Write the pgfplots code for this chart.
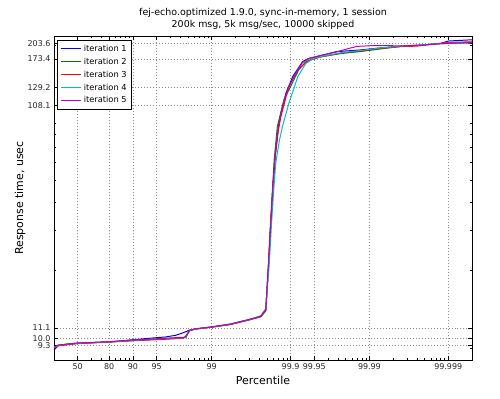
\documentclass[border=0pt]{standalone}
\usepackage{pgfplots}
\pgfplotsset{compat=1.18}
\usepackage{fontspec}
\setmainfont{DejaVu Sans}
\definecolor{mplb}{rgb}{0,0,1}
\definecolor{mplg}{rgb}{0,0.5,0}
\definecolor{mplr}{rgb}{1,0,0}
\definecolor{mplc}{rgb}{0,0.75,0.75}
\definecolor{mplm}{rgb}{0.75,0,0.75}
\begin{document}
\begin{tikzpicture}
\useasboundingbox (-54bp,-39bp) rectangle (446bp,360bp);
\begin{axis}[
  scale only axis, width=418bp, height=324bp,
  at={(0,0)}, anchor=south west,
  xmode=log, ymode=log,
  xmin=1, xmax=200000, ymin=8, ymax=219,
  xtick={2,5,10,20,100,1000,2000,10000,100000},
  xticklabels={50,80,90,95,99,99.9,99.95,99.99,99.999},
  minor xtick={3,4,6,7,8,9,30,40,50,60,70,80,90,200,300,400,500,600,700,800,900,3000,4000,5000,6000,7000,8000,9000,20000,30000,40000,50000,60000,70000,80000,90000},
  ytick={9.3,10,11.1,108.1,129.2,173.4,203.6},
  yticklabels={9.3,10.0,11.1,108.1,129.2,173.4,203.6},
  minor ytick={9,20,30,40,50,60,70,80,90,200},
  /pgf/number format/assume math mode=true,
  tick label style={font=\fontsize{8}{9}\selectfont, text=black!85},
  major tick length=4bp, minor tick length=2bp,
  tick style={black, line width=0.5pt},
  xmajorgrids, ymajorgrids,
  major grid style={black!45, line width=0.5pt, dash pattern=on 1pt off 2pt},
  axis line style={black, line width=0.7pt},
  title={fej-echo.optimized 1.9.0, sync-in-memory, 1 session\\200k msg, 5k msg/sec, 10000 skipped},
  title style={align=center, font=\fontsize{9.5}{12}\selectfont, at={(axis description cs:0.5,1)}, anchor=south, inner sep=0pt, yshift=0.5bp},
  xlabel={Percentile},
  ylabel={Response time, usec},
  xlabel style={font=\fontsize{11}{13}\selectfont, at={(axis description cs:0.5,-0.0617)}, anchor=center},
  ylabel style={font=\fontsize{11}{13}\selectfont, at={(axis description cs:-0.0813,0.5)}, anchor=center},
  legend style={at={(axis description cs:0,1)}, anchor=north west, xshift=3.5bp, yshift=-4bp,
    font=\fontsize{8.3}{10}\selectfont, draw=black, line width=0.7pt, fill=white,
    inner xsep=3bp, inner ysep=2.5bp, row sep=1.2bp},
  legend cell align=left,
  legend image code/.code={\draw[#1, line width=1pt] (0bp,0bp) -- (15bp,0bp); \path (0bp,0bp) -- (20bp,0bp);},
  every axis plot/.append style={line width=1pt, mark=none},
]
\addplot[mplb] coordinates {(1,8.85) (1.14,9.3) (1.5,9.42) (2,9.5) (5,9.62) (10,9.84) (20,10.05) (26,10.12) (35,10.3) (40,10.46) (47,10.68) (52.5,10.86) (62,11.0) (100,11.22) (174,11.55) (313,12.15) (419,12.55) (485,13.4) (530,22) (562,32) (596,46) (640,64) (700,87) (780,104) (872,122) (1069,145) (1420,168.5) (1690,174) (2095,177) (3800,186.6) (7800,190) (14000,194) (25190,197.5) (45000,199.5) (80000,203) (100000,208) (200000,210.7)};
\addlegendentry{iteration 1}
\addplot[mplg] coordinates {(1,9.1) (1.14,9.3) (2,9.5) (5,9.62) (10,9.76) (20,9.89) (35,10.0) (47,10.05) (52.5,10.82) (62,10.98) (100,11.2) (174,11.5) (313,12.1) (419,12.45) (485,13.2) (520,20) (550,30) (590,46) (620,62) (680,87) (822,114) (951,126) (1270,155) (1563,168.5) (1950,174) (2426,177) (4355,183) (7822,187) (14040,192) (25190,197) (45000,199.5) (80000,202.5) (200000,204.5)};
\addlegendentry{iteration 2}
\addplot[mplr] coordinates {(1,9.05) (1.14,9.25) (2,9.45) (5,9.6) (10,9.74) (20,9.84) (35,9.94) (44,10.02) (47,10.2) (52.5,10.8) (62,10.97) (100,11.18) (174,11.5) (313,12.1) (419,12.45) (485,13.3) (525,21) (556,31) (592,45) (630,62) (700,83) (753,96) (951,131) (1270,157) (1690,170) (2426,177) (4355,184) (7822,188) (14040,193) (25190,196.5) (40000,197.5) (60000,201) (100000,205) (200000,206.5)};
\addlegendentry{iteration 3}
\addplot[mplc] coordinates {(1,9.1) (1.14,9.3) (2,9.5) (5,9.63) (10,9.78) (20,9.92) (35,10.02) (46,10.08) (52.5,10.82) (62,10.98) (100,11.2) (174,11.55) (313,12.15) (419,12.55) (485,13.5) (535,21) (570,31) (610,45) (650,60) (720,75) (790,87) (951,110) (1240,145) (1563,165.6) (1950,174) (2426,177.5) (4355,184.5) (7822,189) (14040,194) (25190,197.5) (60000,201) (100000,203.5) (200000,204.5)};
\addlegendentry{iteration 4}
\addplot[mplm] coordinates {(1,9.15) (1.14,9.32) (2,9.52) (5,9.65) (10,9.8) (20,9.94) (35,10.05) (46,10.1) (52.5,10.84) (62,10.99) (100,11.2) (174,11.55) (313,12.15) (419,12.5) (485,13.4) (528,22) (560,32) (594,46) (635,64) (700,87) (790,106) (872,120) (1069,142) (1420,167) (1690,174) (2095,177.5) (3800,186) (5837,194) (7000,197) (10480,198.3) (16000,198.5) (25190,198) (45000,199.5) (80000,202.5) (200000,205)};
\addlegendentry{iteration 5}
\end{axis}
\end{tikzpicture}
\end{document}
